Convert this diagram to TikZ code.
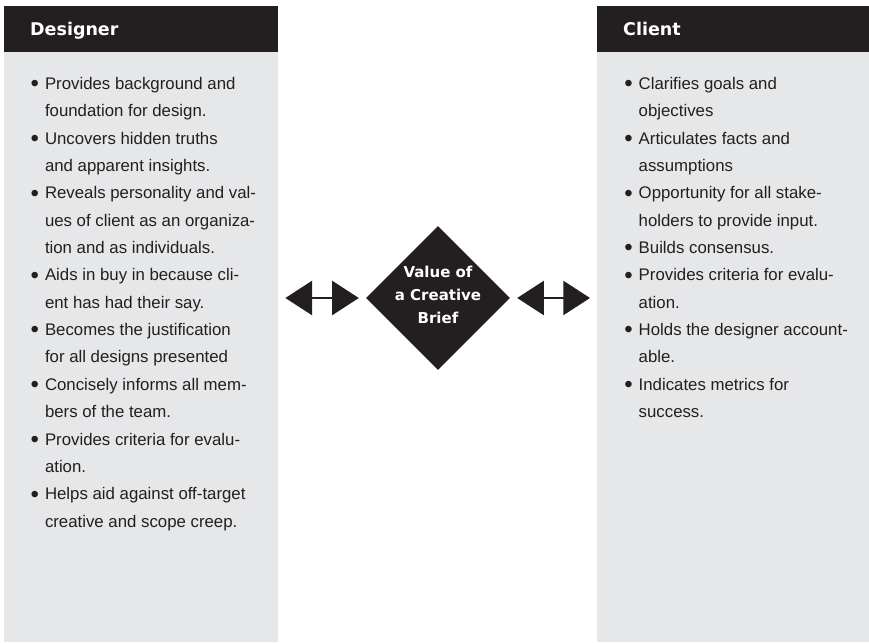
\documentclass[tikz,border=0pt]{standalone}
\usepackage{fontspec}
\setmainfont{Liberation Sans}
\newfontfamily\headfont{DejaVu Sans}
\usetikzlibrary{positioning,arrows.meta,shapes.geometric}
\definecolor{ink}{HTML}{231F20}
\definecolor{panelgray}{HTML}{E6E7E8}
\tikzset{
  panel/.style   = {rectangle, fill=panelgray, inner sep=0pt, anchor=north west,
                    minimum height=590pt},
  head/.style    = {rectangle, fill=ink, inner sep=0pt, anchor=north west,
                    minimum height=46pt},
  headtxt/.style = {text=white, inner sep=0pt, anchor=base west,
                    font=\headfont\bfseries\fontsize{17.5}{21}\selectfont},
  bullets/.style = {align=left, text=ink, inner sep=0pt, anchor=base west,
                    font=\fontsize{16.8}{27.36}\selectfont},
  core/.style    = {diamond, aspect=1, fill=ink, inner sep=0pt,
                    minimum width=144pt, minimum height=144pt},
  coretxt/.style = {text=white, inner sep=0pt, align=center,
                    font=\headfont\bfseries\fontsize{15}{23.3}\selectfont},
  twoway/.style  = {{Triangle[length=26.7pt,width=34.3pt]}-{Triangle[length=26.7pt,width=34.3pt]},
                    line width=1.4pt, draw=ink, shorten <=7pt, shorten >=7pt},
}
\newcommand{\itm}{\makebox[14.3pt][l]{\raisebox{-2.4pt}{\fontsize{24}{0}\selectfont\textbullet}}}
\newcommand{\cnt}{\hspace*{14.3pt}}

\begin{document}
\begin{tikzpicture}[x=1pt,y=-1pt]
  \useasboundingbox (0,0) rectangle (869,642);

  % two side panels
  \node[panel, minimum width=274pt] (dsgpanel) at (4,52) {};
  \node[head, minimum width=274pt] (dsghead) at (4,6) {};
  \node[panel, minimum width=272pt] (clipanel) at (597,52) {};
  \node[head, minimum width=272pt] (clihead) at (597,6) {};

  \node[headtxt] (dsgtitle) at (30,36) {Designer};
  \node[headtxt] (clititle) at (623,36) {Client};

  % lists, placed by the baseline of their last line
  \node[bullets] (dsglist) at (30.5,527.1) {%
    \itm Provides background and\\
    \cnt foundation for design.\\
    \itm Uncovers hidden truths\\
    \cnt and apparent insights.\\
    \itm Reveals personality and val-\\
    \cnt ues of client as an organiza-\\
    \cnt tion and as individuals.\\
    \itm Aids in buy in because cli-\\
    \cnt ent has had their say.\\
    \itm Becomes the justification\\
    \cnt for all designs presented\\
    \itm Concisely informs all mem-\\
    \cnt bers of the team.\\
    \itm Provides criteria for evalu-\\
    \cnt ation.\\
    \itm Helps aid against off-target\\
    \cnt creative and scope creep.};

  \node[bullets] (clilist) at (624.2,417.6) {%
    \itm Clarifies goals and\\
    \cnt objectives\\
    \itm Articulates facts and\\
    \cnt assumptions\\
    \itm Opportunity for all stake-\\
    \cnt holders to provide input.\\
    \itm Builds consensus.\\
    \itm Provides criteria for evalu-\\
    \cnt ation.\\
    \itm Holds the designer account-\\
    \cnt able.\\
    \itm Indicates metrics for\\
    \cnt success.};

  % centre diamond
  \node[core] (brief) at (438,298) {};
  \node[coretxt] (brieftxt) at ([yshift=3pt]brief.center) {Value of\\a Creative\\Brief};

  \draw[twoway] (dsgpanel.east |- brief.west) -- (brief.west);
  \draw[twoway] (brief.east) -- (brief.east -| clipanel.west);
\end{tikzpicture}
\end{document}
